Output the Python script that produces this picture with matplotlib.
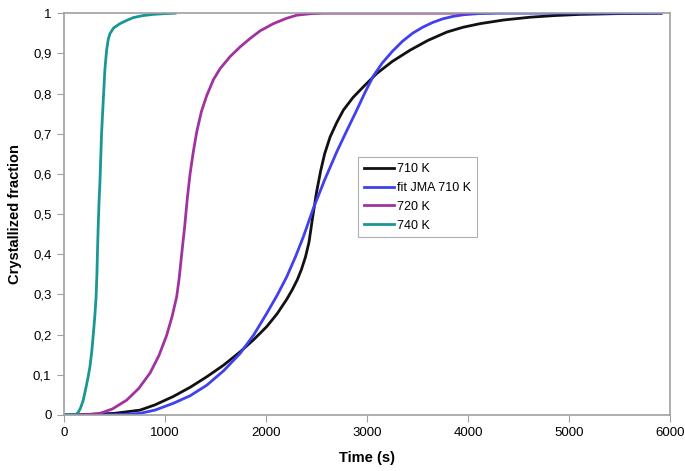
import matplotlib.pyplot as plt
from matplotlib.ticker import FuncFormatter

plt.rcParams['font.family'] = ['Liberation Sans', 'DejaVu Sans']

# 710 K measured
t_710 = [0, 200, 500, 752, 900, 1082, 1250, 1413, 1580, 1743, 1880, 2007, 2110,
         2205, 2260, 2310, 2350, 2390, 2425, 2460, 2500, 2540, 2580, 2634, 2700,
         2766, 2860, 2964, 3096, 3250, 3426, 3600, 3789, 3950, 4119, 4350, 4614,
         4850, 5109, 5500, 5910]
f_710 = [0, 0.001, 0.004, 0.012, 0.025, 0.046, 0.069, 0.095, 0.124, 0.157, 0.188,
         0.22, 0.252, 0.288, 0.312, 0.337, 0.362, 0.393, 0.43, 0.49, 0.555, 0.607,
         0.65, 0.692, 0.728, 0.759, 0.79, 0.817, 0.85, 0.88, 0.908, 0.932, 0.953,
         0.965, 0.974, 0.983, 0.99, 0.994, 0.997, 0.999, 1.0]

# JMA fit at 710 K
t_fit = [0, 400, 600, 752, 900, 1082, 1250, 1413, 1580, 1743, 1880, 2007, 2110,
         2205, 2290, 2370, 2469, 2580, 2700, 2800, 2898, 2980, 3063, 3150, 3250,
         3350, 3450, 3550, 3650, 3750, 3850, 3950, 4100, 4300, 5000, 5910]
f_fit = [0, 0.0003, 0.0015, 0.004, 0.012, 0.029, 0.048, 0.074, 0.11, 0.153,
         0.2, 0.253, 0.298, 0.344, 0.393, 0.444, 0.515, 0.585, 0.655, 0.708,
         0.759, 0.803, 0.844, 0.876, 0.905, 0.93, 0.95, 0.965, 0.977, 0.986,
         0.992, 0.996, 0.999, 1.0, 1.0, 1.0]

# 720 K
t_720 = [100, 250, 356, 480, 621, 740, 851, 940, 1016, 1070, 1116, 1140, 1165,
         1195, 1221, 1248, 1280, 1314, 1360, 1413, 1480, 1545, 1644, 1743, 1842,
         1941, 2073, 2200, 2304, 2450, 2568, 3000, 4000]
f_720 = [0, 0.001, 0.004, 0.015, 0.037, 0.066, 0.104, 0.148, 0.198, 0.245, 0.295,
         0.34, 0.40, 0.47, 0.54, 0.60, 0.655, 0.705, 0.755, 0.795, 0.835,
         0.862, 0.892, 0.916, 0.937, 0.956, 0.974, 0.987, 0.995, 0.999, 1.0,
         1.0, 1.0]

# 740 K
t_740 = [0, 110, 140, 165, 191, 215, 237, 257, 275, 290, 305, 317, 326, 333, 340,
         347, 356, 372, 389, 405, 422, 438, 455, 490, 554, 620, 686, 780, 884,
         1000, 1100]
f_740 = [0, 0, 0.006, 0.018, 0.037, 0.065, 0.092, 0.12, 0.158, 0.20, 0.245, 0.29,
         0.35, 0.42, 0.48, 0.53, 0.58, 0.70, 0.784, 0.86, 0.908, 0.935, 0.949,
         0.963, 0.974, 0.982, 0.989, 0.994, 0.997, 0.999, 1.0]

fig = plt.figure(figsize=(6.85, 4.71), dpi=100)
ax = fig.add_axes([0.0934, 0.119, 0.885, 0.853])

lw = 2.0
ax.plot(t_710, f_710, color='#111111', lw=lw, label='710 K')
ax.plot(t_fit, f_fit, color='#4040ee', lw=lw, label='fit JMA 710 K')
ax.plot(t_720, f_720, color='#a033a0', lw=lw, label='720 K')
ax.plot(t_740, f_740, color='#1a9696', lw=lw, label='740 K')

ax.set_xlim(0, 6000)
ax.set_ylim(0, 1)
ax.set_xticks(range(0, 6001, 1000))
ax.set_yticks([i / 10 for i in range(11)])
ax.yaxis.set_major_formatter(FuncFormatter(
    lambda v, p: '0' if v == 0 else ('1' if v == 1 else f'{v:.1f}'.replace('.', ','))))

for s in ax.spines.values():
    s.set_color('#a0a0a0')
    s.set_linewidth(1.2)
ax.tick_params(direction='out', length=5, color='#a0a0a0', labelsize=9.5, pad=4)

ax.set_xlabel('Time (s)', fontsize=10.5, fontweight='bold', labelpad=8)
ax.set_ylabel('Crystallized fraction', fontsize=10.5, fontweight='bold', labelpad=8)

leg = ax.legend(loc='upper left', bbox_to_anchor=(0.485, 0.641), fontsize=9,
                fancybox=False, framealpha=1, edgecolor='#b0b0b0',
                handlelength=2.4, handletextpad=0.3, labelspacing=0.55,
                borderpad=0.45, borderaxespad=0)
leg.get_frame().set_linewidth(0.8)

fig.savefig('out.png', dpi=100)
